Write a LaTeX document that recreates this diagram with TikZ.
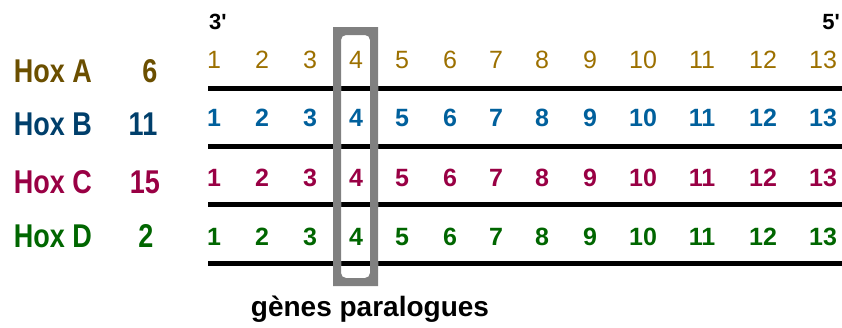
\documentclass[tikz,border=0pt]{standalone}
\usepackage{fontspec}
\usepackage{graphicx}
\setmainfont{Liberation Sans}
\newfontfamily\plainsans{Liberation Sans}
\definecolor{lA}{HTML}{6B4F00}
\definecolor{nA}{HTML}{9C7000}
\definecolor{lB}{HTML}{003F6B}
\definecolor{nB}{HTML}{00609C}
\definecolor{cC}{HTML}{990044}
\definecolor{cD}{HTML}{006600}
\tikzset{
  lbl/.style={inner sep=0pt, font=\bfseries\fontsize{27}{27}\selectfont},
  num/.style={inner sep=0pt, anchor=base, font=\bfseries\fontsize{25}{25}\selectfont},
  numlight/.style={inner sep=0pt, anchor=base, font=\fontsize{25}{25}\selectfont},
  endlbl/.style={inner sep=0pt, font=\plainsans\bfseries\fontsize{22}{22}\selectfont},
  strand/.style={line width=5pt, black},
  frame/.style={fill=black!50, even odd rule},
}
\begin{document}
\begin{tikzpicture}[x=1pt,y=-1pt]
\useasboundingbox (0,0) rectangle (842,327);
% strands
\foreach \y [count=\k] in {88,146,204,263} {
  \coordinate (sL\k) at (208,\y);
  \coordinate (sR\k) at (842,\y);
  \draw[strand] (sL\k) -- (sR\k);
}
% row labels
\node[lbl, text=lA] (hA) at (53,71) {\scalebox{1}[1.22]{Hox A}};
\node[lbl, text=lB] (hB) at (53,124) {\scalebox{1}[1.22]{Hox B}};
\node[lbl, text=cC] (hC) at (53,182) {\scalebox{1}[1.22]{Hox C}};
\node[lbl, text=cD] (hD) at (53,236) {\scalebox{1}[1.22]{Hox D}};
\node[lbl, text=lA] (cA) at (150,71) {\scalebox{1}[1.22]{6}};
\node[lbl, text=lB] (cB) at (143,124) {\scalebox{1}[1.22]{11}};
\node[lbl, text=cC] (cCn) at (145,182) {\scalebox{1}[1.22]{15}};
\node[lbl, text=cD] (cDn) at (146,236) {\scalebox{1}[1.22]{2}};
% numbers
\foreach \n/\x in {1/214,2/262,3/310,4/356,5/402,6/450,7/496,8/542,9/590,10/643,11/702,12/763,13/823} {
  \node[numlight, text=nA] (a\n) at (\x,68) {\n};
  \node[num, text=nB] (b\n) at (\x,126.5) {\n};
  \node[num, text=cC] (c\n) at (\x,186.5) {\n};
  \node[num, text=cD] (d\n) at (\x,245.5) {\n};
}
% 3' / 5'
\node[endlbl, anchor=west] (e3) at (209,22) {3'};
\node[endlbl, anchor=east] (e5) at (840,22) {5'};
% paralog frame
\fill[white, even odd rule] (333,27) rectangle (378,286) [rounded corners=5pt] (341,35) rectangle (370,278);
\fill[frame] (333,27) rectangle (378,286) [rounded corners=5pt] (341,35) rectangle (370,278);
\node[inner sep=0pt, font=\bfseries\fontsize{28}{28}\selectfont, anchor=base] (par) at (370,316) {gènes paralogues};
\end{tikzpicture}
\end{document}
